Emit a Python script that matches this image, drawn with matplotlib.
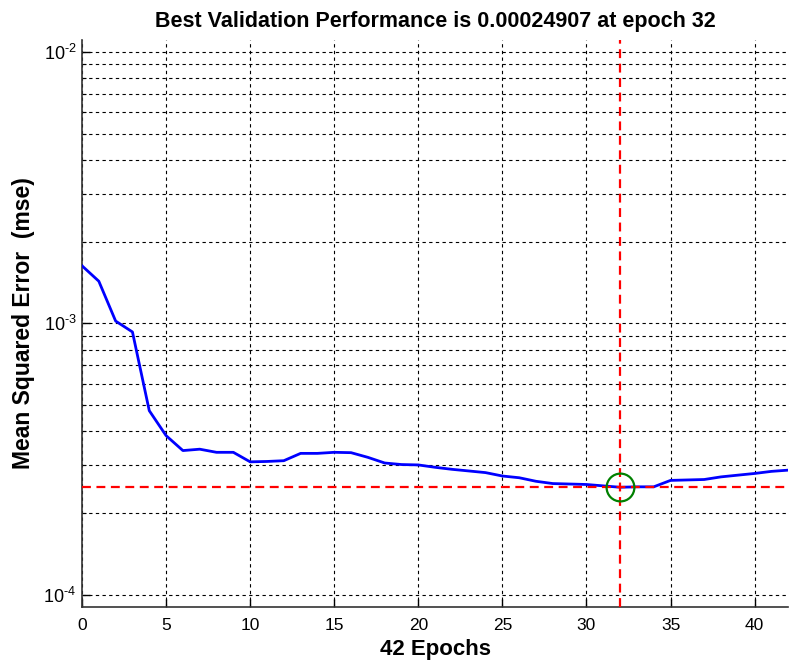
import numpy as np
from matplotlib import pyplot as plt
from matplotlib.ticker import LogLocator, NullFormatter, FuncFormatter

# validation performance per epoch
epochs = list(range(0, 43))
val_mse = [1.63e-3, 1.43e-3, 1.02e-3, 9.3e-4, 4.77e-4, 3.86e-4, 3.40e-4, 3.44e-4,
           3.35e-4, 3.35e-4, 3.09e-4, 3.10e-4, 3.12e-4, 3.32e-4, 3.32e-4, 3.35e-4,
           3.34e-4, 3.21e-4, 3.06e-4, 3.02e-4, 3.01e-4, 2.95e-4, 2.90e-4, 2.86e-4,
           2.82e-4, 2.74e-4, 2.70e-4, 2.62e-4, 2.57e-4, 2.56e-4, 2.55e-4, 2.52e-4,
           2.4907e-4, 2.50e-4, 2.50e-4, 2.64e-4, 2.65e-4, 2.66e-4, 2.72e-4, 2.76e-4,
           2.80e-4, 2.85e-4, 2.88e-4]
best_epoch = 32
best_perf = 0.00024907
x_ticks = [0, 5, 10, 15, 20, 25, 30, 35, 40]

plt.rcParams['font.family'] = ['Liberation Sans', 'DejaVu Sans']
plt.rcParams['mathtext.fontset'] = 'custom'
plt.rcParams['mathtext.rm'] = 'Liberation Sans'
plt.rcParams['mathtext.it'] = 'Liberation Sans'


def pow10_label(v, pos):
    # MATLAB style 10^-n with a short hyphen
    e = int(round(np.log10(v)))
    return r'$\mathregular{10^{\text{-}%d}}$' % (-e)


fig = plt.figure(figsize=(7.9, 6.61), dpi=100)
ax = fig.add_axes([0.1038, 0.0817, 0.894, 0.858])

ax.set_yscale('log')
ax.set_xlim(0, 42)
ax.set_ylim(9.02e-5, 1.108e-2)

grid_kw = dict(color='black', linewidth=0.8, linestyle=(0, (3, 3)))
ax.grid(True, which='major', axis='both', **grid_kw)
ax.grid(True, which='minor', axis='y', **grid_kw)
ax.set_axisbelow(True)

ax.plot(epochs, val_mse, color=(0, 0, 1), linewidth=2.0, zorder=3)
ax.axvline(best_epoch, color='red', linewidth=1.6, dashes=(4, 2.5), zorder=4)
ax.axhline(best_perf, color='red', linewidth=1.6, dashes=(4, 2.5), zorder=4)
ax.plot([best_epoch], [best_perf], marker='o', markersize=20, markerfacecolor='none',
        markeredgecolor=(0, 0.5, 0), markeredgewidth=1.6, zorder=5)

ax.set_xticks(x_ticks)
ax.yaxis.set_major_locator(LogLocator(base=10, numticks=10))
ax.yaxis.set_major_formatter(FuncFormatter(pow10_label))
ax.yaxis.set_minor_locator(LogLocator(base=10, subs=np.arange(2, 10), numticks=20))
ax.yaxis.set_minor_formatter(NullFormatter())
ax.tick_params(axis='both', which='major', direction='in', length=6, width=1,
               labelsize=12.5)
ax.tick_params(axis='x', which='major', pad=8)
ax.tick_params(axis='y', which='major', pad=4, labelsize=13)
ax.tick_params(axis='y', which='minor', direction='in', length=3, width=0.8)
ax.tick_params(axis='x', which='minor', bottom=False)

for s in ['top', 'right']:
    ax.spines[s].set_visible(False)
for s in ['left', 'bottom']:
    ax.spines[s].set_linewidth(1.2)
    ax.spines[s].set_color('#333333')

ax.set_title('Best Validation Performance is 0.00024907 at epoch 32',
             fontsize=15.5, fontweight='bold', pad=9)
ax.set_xlabel('42 Epochs', fontsize=16, fontweight='bold', labelpad=4)
ax.set_ylabel('Mean Squared Error  (mse)', fontsize=16.5, fontweight='bold', labelpad=6)

fig.savefig('out.png', dpi=100)
